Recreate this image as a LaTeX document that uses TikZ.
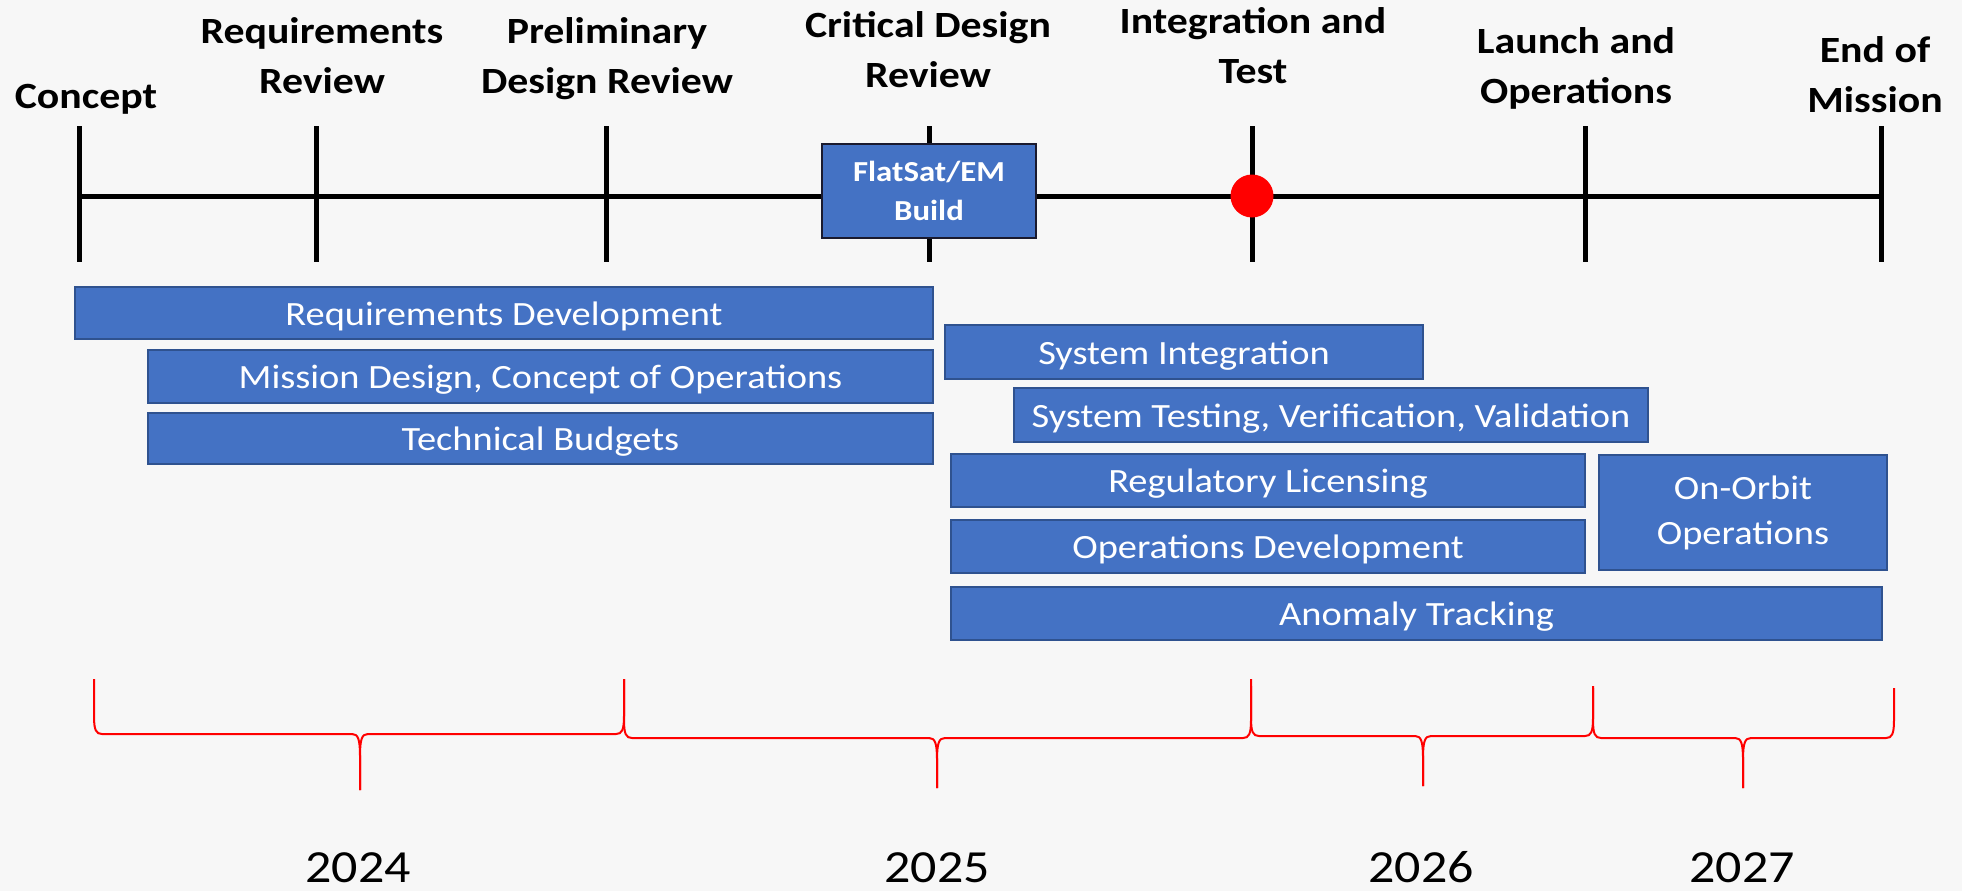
\documentclass[tikz,border=0pt]{standalone}
\usepackage{fontspec}
\setmainfont{Carlito}[FakeStretch=1.13]
\definecolor{barblue}{HTML}{4472C4}
\definecolor{barline}{HTML}{2F528F}
\definecolor{bgcol}{HTML}{F7F7F7}
\definecolor{boxline}{HTML}{1A1A2E}
\begin{document}
\begin{tikzpicture}[x=1pt,y=-1pt,
  milestone/.style={font=\fontsize{37}{50}\selectfont\bfseries, align=center, inner sep=0pt, anchor=base},
  bar/.style={draw=barline, line width=1.5pt, fill=barblue, text=white, font=\fontsize{34}{45}\selectfont, inner sep=0pt, text height=24pt, text depth=0pt},
  tickline/.style={line width=5pt},
  bracepath/.style={draw=red, line width=2pt},
  yearlabel/.style={font=\fontsize{46}{46}\selectfont, anchor=base, inner sep=0pt}]
\useasboundingbox (0,0) rectangle (1962,891);
\fill[bgcol] (0,0) rectangle (1962,891);

% timeline
\coordinate (tlA) at (79,196);
\coordinate (tlB) at (1881,196);
\draw[tickline] (tlA) -- (tlB);
\foreach \n/\x in {t1/79,t2/316,t3/606,t4/929,t5/1252,t6/1585,t7/1881}{
  \coordinate (\n top) at (\x,126);
  \coordinate (\n bot) at (\x,262);
  \draw[tickline] (\n top) -- (\n bot);
}

% FlatSat box
\node[draw=boxline, line width=2pt, fill=barblue, text=white, minimum width=214pt, minimum height=94pt, inner sep=0pt] (flat) at (929,190.5) {};
\node[font=\fontsize{29}{39}\selectfont\bfseries, text=white, align=center, inner sep=0pt] (flattext) at (flat.center) {FlatSat/EM\\Build};

% red dot
\node[circle, fill=red, minimum size=43pt, inner sep=0pt] (dot) at (1252,196) {};

% milestone labels
\node[milestone] (m1) at (86,108) {Concept};
\node[milestone] (m2) at (322,93) {Requirements\\Review};
\node[milestone] (m3) at (607,93) {Preliminary\\Design Review};
\node[milestone] (m4) at (928,88) {Critical Design\\Review};
\node[milestone] (m5) at (1253,83) {Integration and\\Test};
\node[milestone] (m6) at (1576,103) {Launch and\\Operations};
\node[milestone] (m7) at (1875,112) {End of\\Mission};

% bars
\node[bar, minimum width=858pt, minimum height=52pt] (b1) at (504,313) {Requirements Development};
\node[bar, minimum width=785pt, minimum height=53pt] (b2) at (540.5,376.5) {Mission Design, Concept of Operations};
\node[bar, minimum width=785pt, minimum height=51pt] (b3) at (540.5,438.5) {Technical Budgets};
\node[bar, minimum width=478pt, minimum height=54pt] (b4) at (1184,352) {System Integration};
\node[bar, minimum width=634pt, minimum height=54pt] (b5) at (1331,415) {System Testing, Verification, Validation};
\node[bar, minimum width=634pt, minimum height=53pt] (b6) at (1268,480.5) {Regulatory Licensing};
\node[bar, minimum width=634pt, minimum height=53pt] (b7) at (1268,546.5) {Operations Development};
\node[bar, minimum width=288pt, minimum height=115pt, align=center, text height=, text depth=] (b8) at (1743,512.5) {On-Orbit\\Operations};
\node[bar, minimum width=931pt, minimum height=53pt] (b9) at (1416.5,613.5) {Anomaly Tracking};

% braces
\newcommand{\yearbrace}[6]{% x0, x1, xt, ytop, yh, ybot
  \draw[bracepath] (#1,#4) -- (#1,#5-18) .. controls (#1,#5-4) and (#1+2,#5) .. (#1+8,#5)
    -- (#3-8,#5) .. controls (#3-2,#5) and (#3,#5+5) .. (#3,#5+22) -- (#3,#6);
  \draw[bracepath] (#3,#6) -- (#3,#5+22) .. controls (#3,#5+5) and (#3+2,#5) .. (#3+8,#5)
    -- (#2-8,#5) .. controls (#2-2,#5) and (#2,#5-4) .. (#2,#5-18) -- (#2,#4);
}
\yearbrace{94}{624}{360}{679}{734}{790}
\yearbrace{624}{1251}{937}{679}{738}{788}
\yearbrace{1251}{1593}{1423}{686}{736}{786}
\yearbrace{1593}{1894}{1743}{688}{738}{788}

% years
\node[yearlabel] (y1) at (358,882) {2024};
\node[yearlabel] (y2) at (937,882) {2025};
\node[yearlabel] (y3) at (1421,882) {2026};
\node[yearlabel] (y4) at (1742,882) {2027};
\end{tikzpicture}
\end{document}
